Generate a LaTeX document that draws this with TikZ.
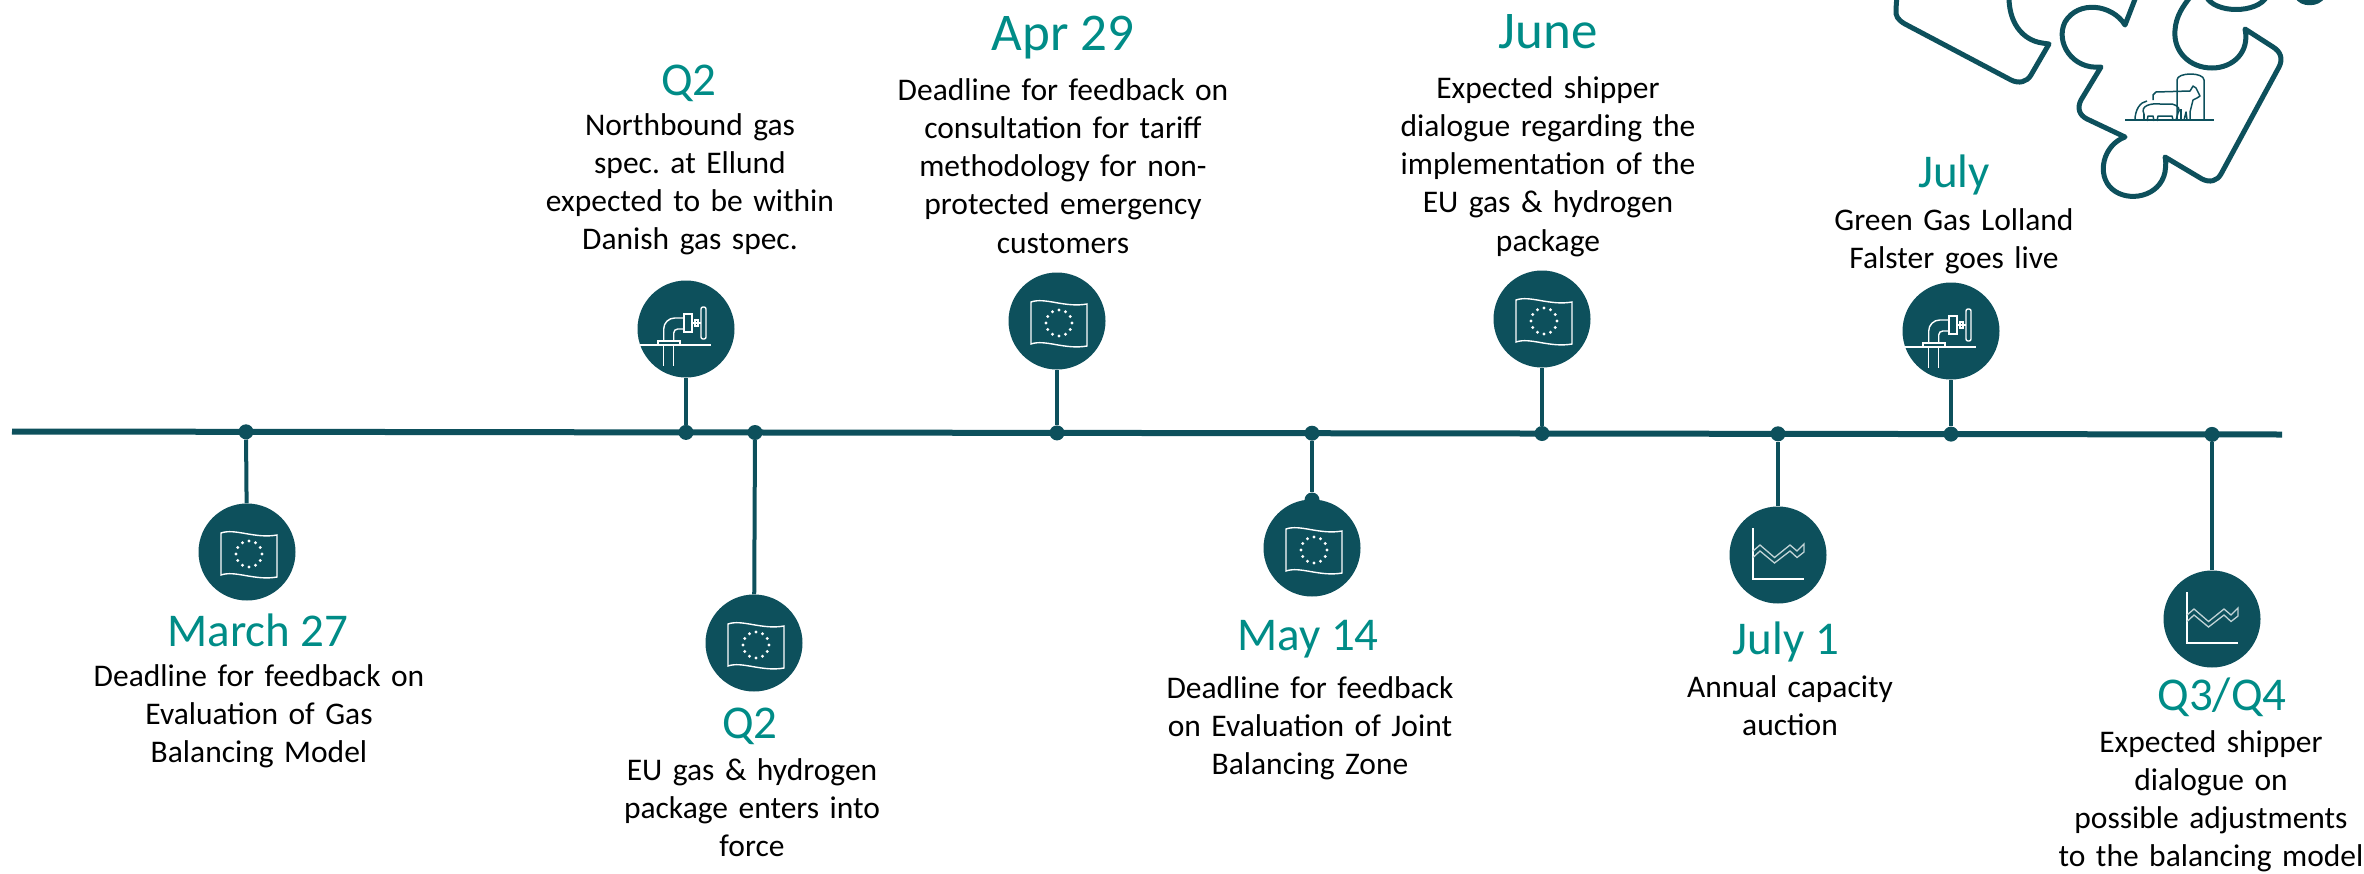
\documentclass[tikz,border=0pt]{standalone}
\usepackage{fontspec}
\setmainfont{Carlito}
\frenchspacing
\definecolor{tealdark}{RGB}{13,80,92}
\definecolor{tealtitle}{RGB}{0,140,135}
\tikzset{
  evdot/.style={circle, fill=tealdark, minimum size=15pt, inner sep=0pt},
  evcircle/.style={circle, fill=tealdark, minimum size=97pt, inner sep=0pt},
  stem/.style={draw=tealdark, line width=4pt},
  mainline/.style={draw=tealdark, line width=6pt},
  evtitle/.style={anchor=base, text=tealtitle, inner sep=0pt, font=\fontsize{47}{50}\selectfont},
  bigtitle/.style={evtitle, font=\fontsize{53}{56}\selectfont},
  evtext/.style={anchor=base, inner sep=0pt, align=center, text width=420pt,
    font=\fontsize{31.5}{38.3}\selectfont},
  iconline/.style={draw=white, line width=1.4pt},
  chartline/.style={draw=white!75!tealdark, line width=1.3pt, line join=miter},
  puzzle/.style={draw=tealdark, line width=5pt, line join=round, line cap=round},
  animal/.style={draw=tealdark, line width=1.5pt, line join=round},
  % EU flag with ring of stars
  euflag/.pic={
    \draw[iconline] (-26,-19) .. controls (-12,-24) and (8,-13) .. (30,-17)
      -- (30,25) .. controls (8,29) and (-12,18) .. (-26,23) -- cycle;
    \foreach \a in {0,30,...,330}
      \fill[white] ([shift={(2,2)}]\a:13) circle (1.7);
  },
  % pipe with valve and hand wheel
  gastap/.pic={
    \draw[iconline] (-46,16) -- (25,16);
    \draw[iconline] (-28,16) rectangle (-6,12);
    \draw[iconline] (-22.3,16) -- (-22.3,37);
    \draw[iconline] (-12.3,16) -- (-12.3,37);
    \draw[iconline] (-22.3,12) -- (-22.3,0) arc[start angle=180, end angle=270, radius=11] -- (-2,-11);
    \draw[iconline] (-12.3,12) -- (-12.3,4) arc[start angle=180, end angle=270, radius=4] -- (-2,0);
    \draw[iconline] (-2,-15) rectangle (6,3);
    \draw[iconline] (6,-6) -- (15,-6);
    \draw[iconline] (9,-9) rectangle (12,-3);
    \draw[iconline, rounded corners=2] (15,-22) rectangle (20,10);
  },
  % line chart with axes
  chart/.pic={
    \draw[iconline] (-25,-27) -- (-25,24) -- (26,24);
    \draw[chartline] (-25,-4) -- (-18,-10) -- (-3.5,2.5) -- (12,-10) -- (19,-4) -- (26,-11)
      -- (26,-3) -- (19,2.5) -- (12,-4) -- (-3.5,8) -- (-18,-4) -- (-25,2.5);
  }
}
\begin{document}
\begin{tikzpicture}[x=1pt, y=-1pt]
\useasboundingbox (0,0) rectangle (2364,873);
\clip (0,0) rectangle (2364,873);

% main time axis
\coordinate (axisstart) at (12,431.5);
\coordinate (axisend) at (2282,434.5);
\draw[mainline] (axisstart) -- (axisend);

% milestone dots on the axis
\node[evdot] (d1) at (246,431.8) {};
\node[evdot] (d2) at (686,432.4) {};
\node[evdot] (d3) at (755,432.5) {};
\node[evdot] (d4) at (1057,432.9) {};
\node[evdot] (d5) at (1312,433.2) {};
\node[evdot] (d6) at (1542,433.5) {};
\node[evdot] (d7) at (1778,433.8) {};
\node[evdot] (d8) at (1951,434.1) {};
\node[evdot] (d9) at (2212,434.4) {};

% icon discs
\node[evcircle] (c1) at (247,552) {};
\node[evcircle] (c2) at (686,329) {};
\node[evcircle] (c3) at (754,643) {};
\node[evcircle] (c4) at (1057,321) {};
\node[evcircle] (c5) at (1312,548) {};
\node[evdot] (d5b) at (1312,500) {};
\node[evcircle] (c6) at (1542,319) {};
\node[evcircle] (c7) at (1778,555) {};
\node[evcircle] (c8) at (1951,331) {};
\node[evcircle] (c9) at (2212,619) {};

% stems
\draw[stem] (d1) -- (c1);
\draw[stem] (d2) -- (c2);
\draw[stem] (d3) -- (c3);
\draw[stem] (d4) -- (c4);
\draw[stem] (d5) -- (d5b);
\draw[stem] (d6) -- (c6);
\draw[stem] (d7) -- (c7);
\draw[stem] (d8) -- (c8);
\draw[stem] (d9) -- (c9);

% icons
\pic at (c1.center) {euflag};
\pic at (c2.center) {gastap};
\pic at (c3.center) {euflag};
\pic at (c4.center) {euflag};
\pic at (c5.center) {euflag};
\pic at (c6.center) {euflag};
\pic at (c7.center) {chart};
\pic at (c8.center) {gastap};
\pic at (c9.center) {chart};

% labels below the axis
\node[evtitle] (t1) at (258,646) {March 27};
\node[evtext] (b1) at (259,686) {Deadline for feedback on\\Evaluation of Gas\\Balancing Model};

\node[evtitle] (t3) at (750,738) {Q2};
\node[evtext] (b3) at (752,780) {EU gas \& hydrogen\\package enters into\\force};

\node[evtitle] (t5) at (1308,650) {May 14};
\node[evtext] (b5) at (1310,698) {Deadline for feedback\\on Evaluation of Joint\\Balancing Zone};

\node[evtitle] (t7) at (1786,654) {July 1};
\node[evtext] (b7) at (1790,697) {Annual capacity\\auction};

\node[evtitle] (t9) at (2222,710) {Q3/Q4};
\node[evtext] (b9) at (2211,752) {Expected shipper\\dialogue on\\possible adjustments\\to the balancing model};

% labels above the axis
\node[evtitle] (t2) at (689,95) {Q2};
\node[evtext] (b2) at (690,135) {Northbound gas\\spec. at Ellund\\expected to be within\\Danish gas spec.};

\node[bigtitle] (t4) at (1063,50) {Apr 29};
\node[evtext] (b4) at (1063,100) {Deadline for feedback on\\consultation for tariff\\methodology for non-\\protected emergency\\customers};

\node[bigtitle] (t6) at (1548,48) {June};
\node[evtext] (b6) at (1548,98) {Expected shipper\\dialogue regarding the\\implementation of the\\EU gas \& hydrogen\\package};

\node[evtitle] (t8) at (1954,187) {July};
\node[evtext] (b8) at (1954,230) {Green Gas Lolland\\Falster goes live};

% puzzle pieces in the corner
\draw[puzzle] (1897,-6) -- (1896,9) .. controls (1895,16) and (1898,20) .. (1905,24)
  -- (2011,80) .. controls (2019,84) and (2027,82) .. (2031,75) -- (2049,44) -- (2042,43)
  .. controls (2022,40) and (2008,22) .. (2009,-6);
\draw[puzzle] (2137,-6) -- (2125,25) .. controls (2112,4) and (2078,0) .. (2065,22)
  .. controls (2055,42) and (2072,70) .. (2101,67) -- (2081,100)
  .. controls (2077,108) and (2079,115) .. (2087,119) -- (2125,137)
  .. controls (2103,145) and (2096,175) .. (2112,189)
  .. controls (2128,203) and (2160,197) .. (2165,172)
  .. controls (2166,165) and (2166,160) .. (2165,157) -- (2202,179)
  .. controls (2210,183) and (2217,181) .. (2221,174) -- (2279,67)
  .. controls (2283,59) and (2281,52) .. (2273,47) -- (2245,29)
  .. controls (2250,52) and (2233,68) .. (2212,68)
  .. controls (2190,68) and (2173,52) .. (2175,30)
  .. controls (2176,16) and (2183,6) .. (2191,-4);
\draw[puzzle] (2206,-4) .. controls (2214,14) and (2258,14) .. (2267,-4);
\draw[puzzle] (2297,-4) .. controls (2301,5) and (2318,5) .. (2323,-4);

% farm animals and silo inside the puzzle piece
\draw[animal] (2125,120) -- (2214,120);
\draw[animal] (2177,120) -- (2177,80) .. controls (2177,72) and (2204,72) .. (2204,80) -- (2204,120);
\draw[animal] (2153,100) -- (2153,95) -- (2156,92) -- (2190,91) -- (2193,86) -- (2196,88)
  -- (2200,96) -- (2197,98) -- (2193,100) -- (2190,112) -- (2190,120);
\draw[animal] (2187,120) -- (2186,112) -- (2184,120);
\draw[animal] (2181,120) -- (2181,109);
\draw[animal] (2144,114) .. controls (2140,106) and (2150,103) .. (2160,104) -- (2172,104)
  .. controls (2178,105) and (2181,110) .. (2178,113) -- (2176,120);
\draw[animal] (2173,120) -- (2172,116) -- (2158,116) -- (2157,121);
\draw[animal] (2154,121) -- (2153,116) -- (2148,116) -- (2147,121);
\draw[animal] (2144,114) -- (2144,121);
\draw[animal] (2135,120) .. controls (2135,110) and (2140,102) .. (2147,101);
\end{tikzpicture}
\end{document}
